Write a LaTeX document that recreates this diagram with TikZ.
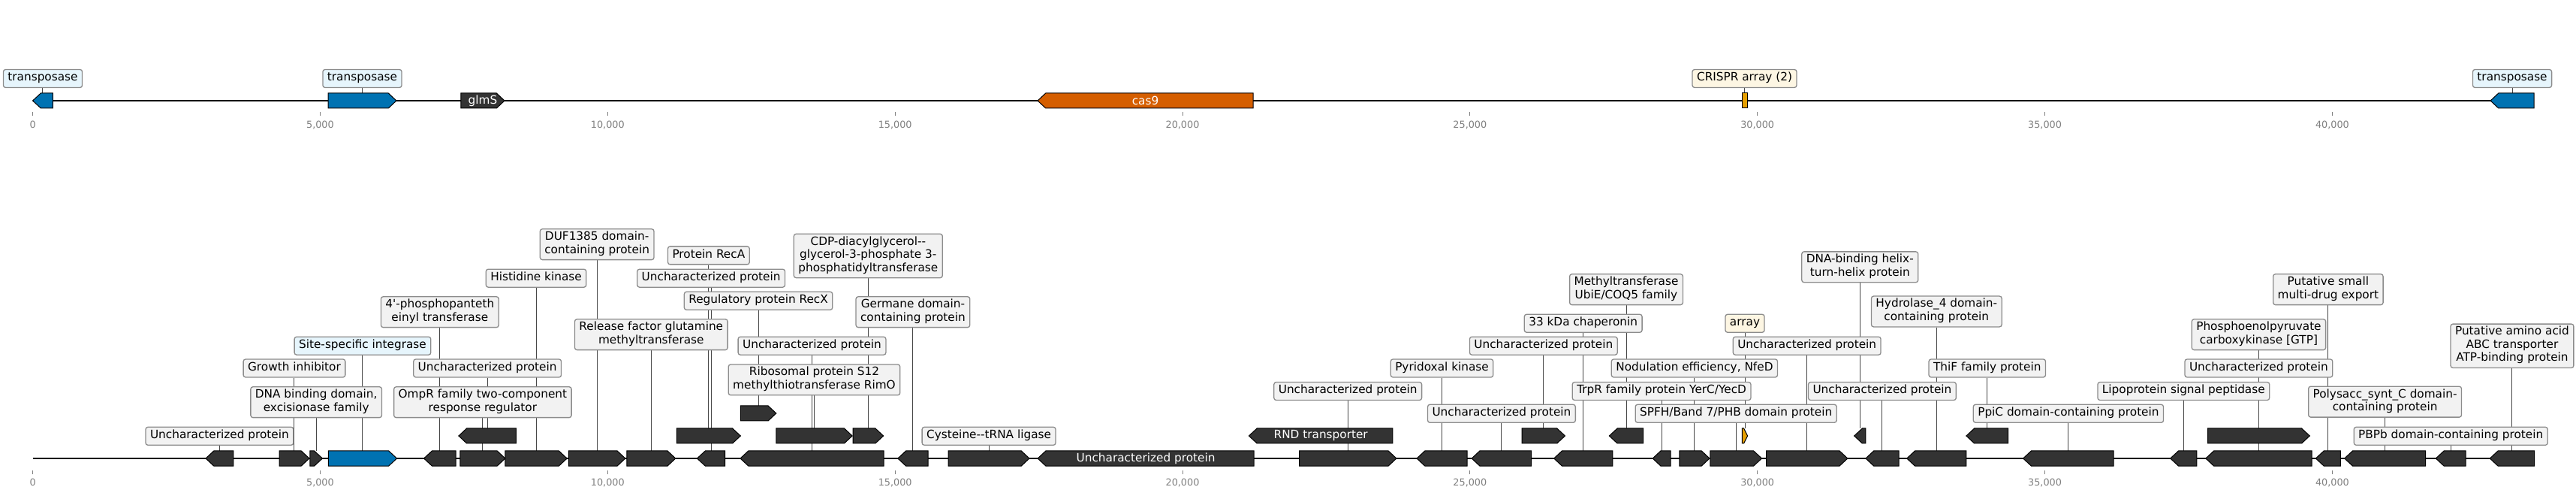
\documentclass[tikz,border=0pt]{standalone}
\usepackage{fontspec}
\setmainfont{DejaVu Sans}
\usepackage{tikz}
\usetikzlibrary{positioning,backgrounds}
\definecolor{geneDark}{RGB}{51,51,51}
\definecolor{geneBlue}{RGB}{0,114,178}
\definecolor{geneVerm}{RGB}{213,94,0}
\definecolor{geneGold}{RGB}{230,159,0}
\definecolor{boxFill}{RGB}{242,242,242}
\definecolor{boxEdge}{RGB}{140,140,140}
\definecolor{boxBlue}{RGB}{230,245,252}
\definecolor{boxCream}{RGB}{253,246,227}
\definecolor{stemGray}{RGB}{70,70,70}
\definecolor{tickGray}{RGB}{128,128,128}
\newcommand{\lblfont}{\fontsize{15.3}{17.5}\selectfont}
\newcommand{\tickfont}{\fontsize{12.8}{15}\selectfont}
% gene arrows: [colour]{name}{start kb}{end kb}{track y}
\newcommand{\geneR}[5][geneDark]{%
  \pgfmathsetmacro{\headlen}{min(0.14,0.7*(#4-#3))}%
  \filldraw[gene,fill=#1] ({#3},{#5-10}) -- ({#4-\headlen},{#5-10}) -- ({#4},{#5})
    -- ({#4-\headlen},{#5+10}) -- ({#3},{#5+10}) -- cycle;
  \coordinate (#2) at ({(#3+#4)/2},{#5+10});}
\newcommand{\geneL}[5][geneDark]{%
  \pgfmathsetmacro{\headlen}{min(0.14,0.7*(#4-#3))}%
  \filldraw[gene,fill=#1] ({#4},{#5-10}) -- ({#3+\headlen},{#5-10}) -- ({#3},{#5})
    -- ({#3+\headlen},{#5+10}) -- ({#4},{#5+10}) -- cycle;
  \coordinate (#2) at ({(#3+#4)/2},{#5+10});}

\begin{document}
\begin{tikzpicture}[x=76.57pt,y=1pt,
  gene/.style={draw=black,line width=1pt,line join=miter},
  backbone/.style={line width=2.2pt,black},
  lbl/.style={draw=boxEdge,fill=boxFill,line width=1.3pt,rounded corners=3pt,
    inner xsep=6pt,inner ysep=3.25pt,align=center,font=\lblfont,
    execute at begin node=\strut,execute at end node=\strut},
  lblblue/.style={lbl,fill=boxBlue},
  lblcream/.style={lbl,fill=boxCream},
  inl/.style={text=white,font=\lblfont,inner sep=0pt},
  stem/.style={stemGray,line width=1pt},
  tick/.style={tickGray,line width=1pt},
  ticklbl/.style={text=tickGray,font=\tickfont,inner sep=0pt}]
  \useasboundingbox (-0.5694,0) rectangle (44.2394,659);

  % top track
  \draw[backbone] (0,525) -- (43.508,525);
  \geneL[geneBlue]{t1}{0}{0.350}{525}
  \geneR[geneBlue]{t2}{5.138}{6.326}{525}
  \geneR{glmS}{7.449}{8.207}{525}
  \geneL[geneVerm]{cas9}{17.480}{21.228}{525}
  \filldraw[gene,fill=geneGold] (29.730,515) rectangle (29.821,535);
  \coordinate (crispr) at (29.7755,535);
  \geneL[geneBlue]{t3}{42.751}{43.508}{525}
  \node[inl] (glmSt) at ([yshift=-10pt]glmS) {glmS};
  \node[inl] (cas9t) at ([yshift=-10pt]cas9) {cas9};
  \node[lblblue] (lt1) at (t1 |- 0,554.5) {transposase};
  \node[lblblue] (lt2) at (t2 |- 0,554.5) {transposase};
  \node[lblcream] (lcrispr) at (crispr |- 0,554.5) {CRISPR array (2)};
  \node[lblblue] (lt3) at (t3 |- 0,554.5) {transposase};
  \foreach \k/\t in {0/0,5/{5,000},10/{10,000},15/{15,000},20/{20,000},25/{25,000},30/{30,000},35/{35,000},40/{40,000}} {
    \draw[tick] (\k,505) -- (\k,510);
    \node[ticklbl] (tt\k) at (\k,493) {\t};
  }

  % bottom track
  \draw[backbone] (0,49) -- (43.516,49);
  \geneL{g1}{3.009}{3.490}{49}
  \geneR{g2}{4.289}{4.811}{49}
  \geneR{g3}{4.824}{5.039}{49}
  \geneR[geneBlue]{g4}{5.143}{6.333}{49}
  \geneL{g5}{6.804}{7.359}{49}
  \geneR{g6}{7.434}{8.219}{49}
  \geneL{g6b}{7.409}{8.408}{79}
  \geneR{g7}{8.219}{9.293}{49}
  \geneR{g8}{9.323}{10.308}{49}
  \geneR{g9}{10.333}{11.182}{49}
  \geneL{g10}{11.557}{12.043}{49}
  \geneR{g10b}{11.203}{12.312}{79}
  \geneR{g11c}{12.312}{12.932}{109}
  \geneL{g11}{12.308}{14.802}{49}
  \geneR{g12b}{12.932}{14.256}{79}
  \geneR{g13b}{14.267}{14.797}{79}
  \geneL{g14}{15.048}{15.573}{49}
  \geneR{g15}{15.927}{17.336}{49}
  \geneL{g16}{17.481}{21.241}{49}
  \geneL{g17b}{21.155}{23.656}{79}
  \geneR{g18}{22.031}{23.721}{49}
  \geneL{g19}{24.075}{24.950}{49}
  \geneL{g20}{25.030}{26.069}{49}
  \geneR{g21b}{25.905}{26.654}{79}
  \geneL{g22}{26.460}{27.480}{49}
  \geneL{g23b}{27.423}{28.014}{79}
  \geneL{g24}{28.178}{28.489}{49}
  \geneR{g25}{28.643}{29.168}{49}
  \geneR{g26}{29.180}{30.075}{49}
  \geneR[geneGold]{arr}{29.735}{29.829}{79}
  \geneR{g27}{30.154}{31.569}{49}
  \geneL{g28b}{31.684}{31.883}{79}
  \geneL{g29}{31.883}{32.459}{49}
  \geneL{g30}{32.599}{33.633}{49}
  \geneL{g31b}{33.633}{34.362}{79}
  \geneL{g32}{34.622}{36.197}{49}
  \geneL{g33}{37.183}{37.643}{49}
  \geneR{g34b}{37.834}{39.607}{79}
  \geneL{g35}{37.798}{39.642}{49}
  \geneL{g36}{39.712}{40.143}{49}
  \geneL{g37}{40.212}{41.621}{49}
  \geneL{g38}{41.801}{42.321}{49}
  \geneL{g39}{42.741}{43.516}{49}
  \node[inl] (g16t) at ([yshift=-10pt]g16) {Uncharacterized protein};
  \node[inl] (g17t) at ([yshift=-10pt]g17b) {RND transporter};

  \node[lbl] (l1) at (g1 |- 0,78.7) {Uncharacterized protein};
  \node[lbl] (l2) at (g2 |- 0,169) {Growth inhibitor};
  \node[lbl] (l3) at (g3 |- 0,123.8) {DNA binding domain,\\excisionase family};
  \node[lblblue] (l4) at (g4 |- 0,198.8) {Site-specific integrase};
  \node[lbl] (l5) at (g5 |- 0,243.8) {4\textquotesingle-phosphopanteth\\einyl transferase};
  \node[lbl] (l6) at (g6 |- 0,123.8) {OmpR family two-component\\response regulator};
  \node[lbl] (l6b) at (g6b |- 0,169) {Uncharacterized protein};
  \node[lbl] (l7) at (g7 |- 0,288.8) {Histidine kinase};
  \node[lbl] (l8) at (g8 |- 0,333.8) {DUF1385 domain-\\containing protein};
  \node[lbl] (l9) at (g9 |- 0,213.8) {Release factor glutamine\\methyltransferase};
  \node[lbl] (l10) at (g10 |- 0,288.8) {Uncharacterized protein};
  \node[lbl] (l10b) at (g10b |- 0,319.1) {Protein RecA};
  \node[lbl] (l11c) at (g11c |- 0,258.7) {Regulatory protein RecX};
  \node[lbl] (l11) at (g11 |- 0,198.8) {Uncharacterized protein};
  \node[lbl] (l12b) at (g12b |- 0,153.6) {Ribosomal protein S12\\methylthiotransferase RimO};
  \node[lbl] (l13b) at (g13b |- 0,318.5) {CDP-diacylglycerol-{}-\\glycerol-3-phosphate 3-\\phosphatidyltransferase};
  \node[lbl] (l14) at (g14 |- 0,243.8) {Germane domain-\\containing protein};
  \node[lbl] (l15) at (g15 |- 0,78.7) {Cysteine-{}-tRNA ligase};
  \node[lbl] (l18) at (g18 |- 0,138.5) {Uncharacterized protein};
  \node[lbl] (l19) at (g19 |- 0,169) {Pyridoxal kinase};
  \node[lbl] (l20) at (g20 |- 0,108.7) {Uncharacterized protein};
  \node[lbl] (l21b) at (g21b |- 0,198.8) {Uncharacterized protein};
  \node[lbl] (l22) at (g22 |- 0,228.7) {33 kDa chaperonin};
  \node[lbl] (l23b) at (g23b |- 0,273.8) {Methyltransferase\\UbiE/COQ5 family};
  \node[lbl] (l24) at (g24 |- 0,138.5) {TrpR family protein YerC/YecD};
  \node[lbl] (l25) at (g25 |- 0,169) {Nodulation efficiency, NfeD};
  \node[lbl] (l26) at (g26 |- 0,108.7) {SPFH/Band 7/PHB domain protein};
  \node[lblcream] (larr) at (arr |- 0,228.7) {array};
  \node[lbl] (l27) at (g27 |- 0,198.8) {Uncharacterized protein};
  \node[lbl] (l28b) at (g28b |- 0,303.7) {DNA-binding helix-\\turn-helix protein};
  \node[lbl] (l29) at (g29 |- 0,138.5) {Uncharacterized protein};
  \node[lbl] (l30) at (g30 |- 0,244.5) {Hydrolase\_4 domain-\\containing protein};
  \node[lbl] (l31b) at (g31b |- 0,169) {ThiF family protein};
  \node[lbl] (l32) at (g32 |- 0,108.7) {PpiC domain-containing protein};
  \node[lbl] (l33) at (g33 |- 0,138.5) {Lipoprotein signal peptidase};
  \node[lbl] (l34b) at (g34b |- 0,213.8) {Phosphoenolpyruvate\\carboxykinase [GTP]};
  \node[lbl] (l35) at (g35 |- 0,169) {Uncharacterized protein};
  \node[lbl] (l36) at (g36 |- 0,273.8) {Putative small\\multi-drug export};
  \node[lbl] (l37) at (g37 |- 0,124.3) {Polysacc\_synt\_C domain-\\containing protein};
  \node[lbl] (l38) at (g38 |- 0,78.7) {PBPb domain-containing protein};
  \node[lbl] (l39) at (g39 |- 0,198.7) {Putative amino acid\\ABC transporter\\ATP-binding protein};
  \foreach \k/\t in {0/0,5/{5,000},10/{10,000},15/{15,000},20/{20,000},25/{25,000},30/{30,000},35/{35,000},40/{40,000}} {
    \draw[tick] (\k,28.3) -- (\k,33.3);
    \node[ticklbl] (bt\k) at (\k,16.7) {\t};
  }

  % label stems behind everything
  \begin{pgfonlayer}{background}
    \foreach \l/\g in {lt1/t1,lt2/t2,lcrispr/crispr,lt3/t3,
        l1/g1,l2/g2,l3/g3,l4/g4,l5/g5,l6/g6,l6b/g6b,l7/g7,l8/g8,l9/g9,
        l10/g10,l10b/g10b,l11c/g11c,l11/g11,l12b/g12b,l13b/g13b,l14/g14,l15/g15,
        l18/g18,l19/g19,l20/g20,l21b/g21b,l22/g22,l23b/g23b,l24/g24,l25/g25,
        l26/g26,larr/arr,l27/g27,l28b/g28b,l29/g29,l30/g30,l31b/g31b,l32/g32,
        l33/g33,l34b/g34b,l35/g35,l36/g36,l37/g37,l38/g38,l39/g39}
      \draw[stem] (\l) -- (\g);
  \end{pgfonlayer}
\end{tikzpicture}
\end{document}
